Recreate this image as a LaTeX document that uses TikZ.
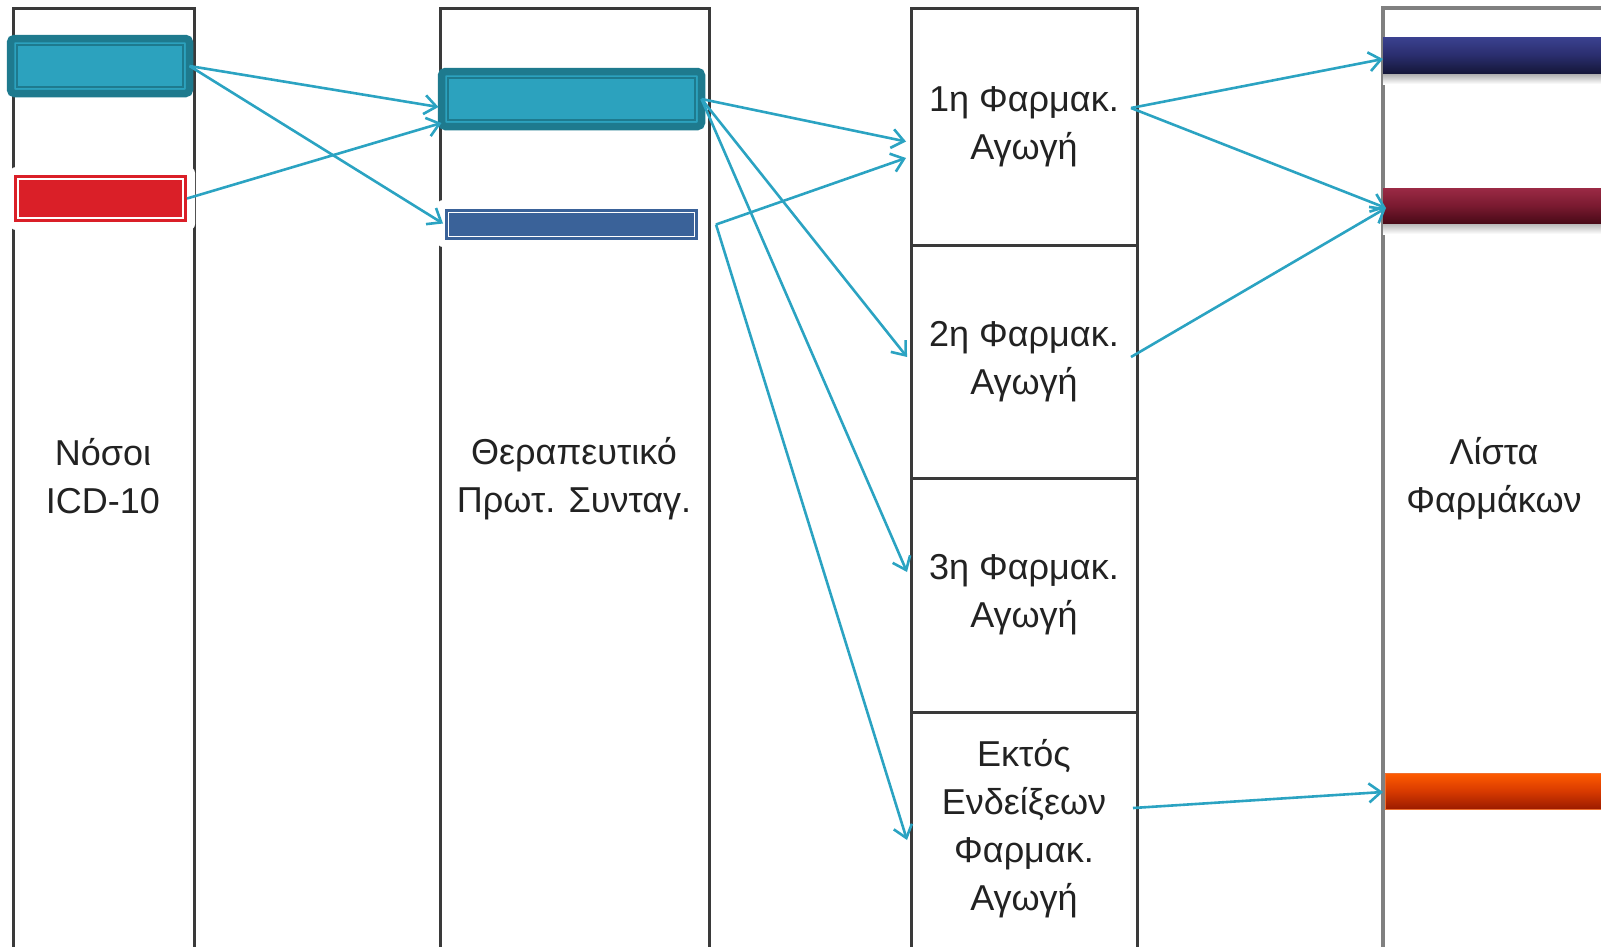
\documentclass[tikz,border=0pt]{standalone}
\usepackage{fontspec}
\setmainfont{Liberation Sans}
\usetikzlibrary{arrows.meta,calc}
\definecolor{tealF}{HTML}{2CA2BE}
\definecolor{tealD}{HTML}{1E7A8E}
\definecolor{arrC}{HTML}{2BA3C2}
\definecolor{redF}{HTML}{DA1F28}
\definecolor{blueF}{HTML}{3A6299}
\definecolor{colG}{HTML}{3A3A3A}
\definecolor{colG2}{HTML}{808080}
\definecolor{navyT}{HTML}{3B4190}
\definecolor{navyM}{HTML}{2A2E6E}
\definecolor{navyB}{HTML}{15173A}
\definecolor{marT}{HTML}{9B2A45}
\definecolor{marM}{HTML}{7A1A30}
\definecolor{marB}{HTML}{4A0A18}
\definecolor{orT}{HTML}{FF5C00}
\definecolor{orM}{HTML}{D83A00}
\definecolor{orB}{HTML}{9C1C00}
\definecolor{orE}{HTML}{F07030}
\definecolor{txt}{HTML}{222222}
\begin{document}
\begin{tikzpicture}[x=1pt,y=-1pt,
  column/.style={draw=colG,line width=3pt,fill=white,anchor=north west,inner sep=0pt,outer sep=0pt},
  cell/.style={draw=none,anchor=north west,inner sep=0pt,outer sep=0pt,minimum width=226pt,font=\fontsize{36}{48}\selectfont,align=center,text=txt},
  lbl/.style={font=\fontsize{36}{48}\selectfont,align=center,text=txt,inner sep=0pt},
  tealbar/.style={fill=tealF,draw=tealD,line width=7.5pt,rounded corners=4pt,inner sep=0pt,outer sep=0pt},
  plainbar/.style={inner sep=0pt,outer sep=0pt},
  whitebg/.style={fill=white,draw=none,rounded corners=6pt,inner sep=0pt,outer sep=0pt},
  drugbar/.style={inner sep=0pt,outer sep=0pt,anchor=west,minimum width=230pt,minimum height=36pt},
  link/.style={draw=arrC,line width=2.6pt,-{Straight Barb[length=12pt,width=19pt]}},
]
\useasboundingbox (0,0) rectangle (1601,946);

% columns
\node[column,minimum width=181pt,minimum height=950pt] (n1) at (13,8) {};
\node[column,minimum width=269pt,minimum height=950pt] (n2) at (440,8) {};
\node[column,minimum width=226pt,minimum height=950pt] (n3) at (911,8) {};
\node[column,draw=colG2,line width=3.5pt,minimum width=240pt,minimum height=950pt] (n4) at (1383,8) {};

% cells of column 3
\node[cell,minimum height=237pt] (c1) at (911,8) {1η Φαρμακ.\\Αγωγή};
\node[cell,minimum height=233pt] (c2) at (911,245) {2η Φαρμακ.\\Αγωγή};
\node[cell,minimum height=234pt] (c3) at (911,478) {3η Φαρμακ.\\Αγωγή};
\node[cell,minimum height=234pt] (c4) at (911,712) {Εκτός\\Ενδείξεων\\Φαρμακ.\\Αγωγή};
\draw[colG,line width=3pt] (c1.south west) -- (c1.south east);
\draw[colG,line width=3pt] (c2.south west) -- (c2.south east);
\draw[colG,line width=3pt] (c3.south west) -- (c3.south east);

% labels
\node[lbl] (t1) at (103,476) {Νόσοι\\ICD-10};
\node[lbl] (t2) at (574,479) {Θεραπευτικό\\Πρωτ. Συνταγ.};
\node[lbl] (t4) at (1494,479) {Λίστα\\Φαρμάκων};

% column 1 bars
\node[tealbar,minimum width=179pt,minimum height=55pt] (a1) at (100,66) {};
\draw[tealD,line width=1.3pt] ($(a1.north west)+(6.5,6.5)$) rectangle ($(a1.south east)+(-6.5,-6.5)$);
\node[whitebg,minimum width=185pt,minimum height=63pt] (r0) at (102.5,198.5) {};
\node[plainbar,fill=redF,minimum width=173pt,minimum height=47pt] (r1) at (100.5,198.5) {};
\draw[white,line width=1.5pt] ($(r1.north west)+(4,4)$) rectangle ($(r1.south east)+(-4,-4)$);

% column 2 bars
\node[tealbar,minimum width=260pt,minimum height=55pt] (b1) at (571.5,99) {};
\draw[tealD,line width=1.3pt] ($(b1.north west)+(6.5,6.5)$) rectangle ($(b1.south east)+(-6.5,-6.5)$);
\node[whitebg,minimum width=269pt,minimum height=47pt] (b0) at (571.5,223.5) {};
\node[plainbar,fill=blueF,minimum width=253pt,minimum height=31pt] (b2) at (571.5,224.5) {};
\draw[white,line width=1.5pt] ($(b2.north west)+(3.5,3.5)$) rectangle ($(b2.south east)+(-3.5,-3.5)$);

% column 4 bars (with soft shadows)
\shade[top color=black!35,bottom color=white] (1383,73) rectangle (1610,84);
\node[drugbar,top color=navyT,bottom color=navyB,middle color=navyM] (d1) at (1383,55) {};
\shade[top color=black!30,bottom color=white] (1383,223) rectangle (1610,234);
\node[drugbar,top color=marT,bottom color=marB,middle color=marM,minimum height=35pt] (d2) at (1383,205.5) {};
\node[drugbar,draw=orE,line width=1pt,top color=orT,bottom color=orB,middle color=orM] (d3) at (1385,791) {};

% connector end points
\coordinate (bk) at ($(b2.east)+(18,0)$);
\coordinate (c1o) at ($(c1.east)+(-6,-18.5)$);
\coordinate (c2o) at ($(c2.east)+(-6,-4.5)$);
\coordinate (c4o) at ($(c4.east)+(-4,-21)$);

% connectors
\draw[link] (a1.east) -- ($(b1.west)+(-3,8)$);
\draw[link] (a1.east) -- ($(b2.west)+(-2,-1)$);
\draw[link] (r1.east) -- ($(b1.west)+(0,24)$);
\draw[link] (b1.east) -- ($(c1.west)+(-5,15)$);
\draw[link] (b1.east) -- ($(c2.west)+(-4,-4.5)$);
\draw[link] (b1.east) -- ($(c3.west)+(-4,-23)$);
\draw[link] (bk) -- ($(c1.west)+(-5,31.5)$);
\draw[link] (bk) -- ($(c4.west)+(-4,11)$);
\draw[link] (c1o) -- ($(d1.west)+(0,4)$);
\draw[link] (c1o) -- ($(d2.west)+(3,2.5)$);
\draw[link] (c2o) -- ($(d2.west)+(3,2.5)$);
\draw[link] (c4o) -- ($(d3.west)+(-2,1)$);
\end{tikzpicture}
\end{document}
